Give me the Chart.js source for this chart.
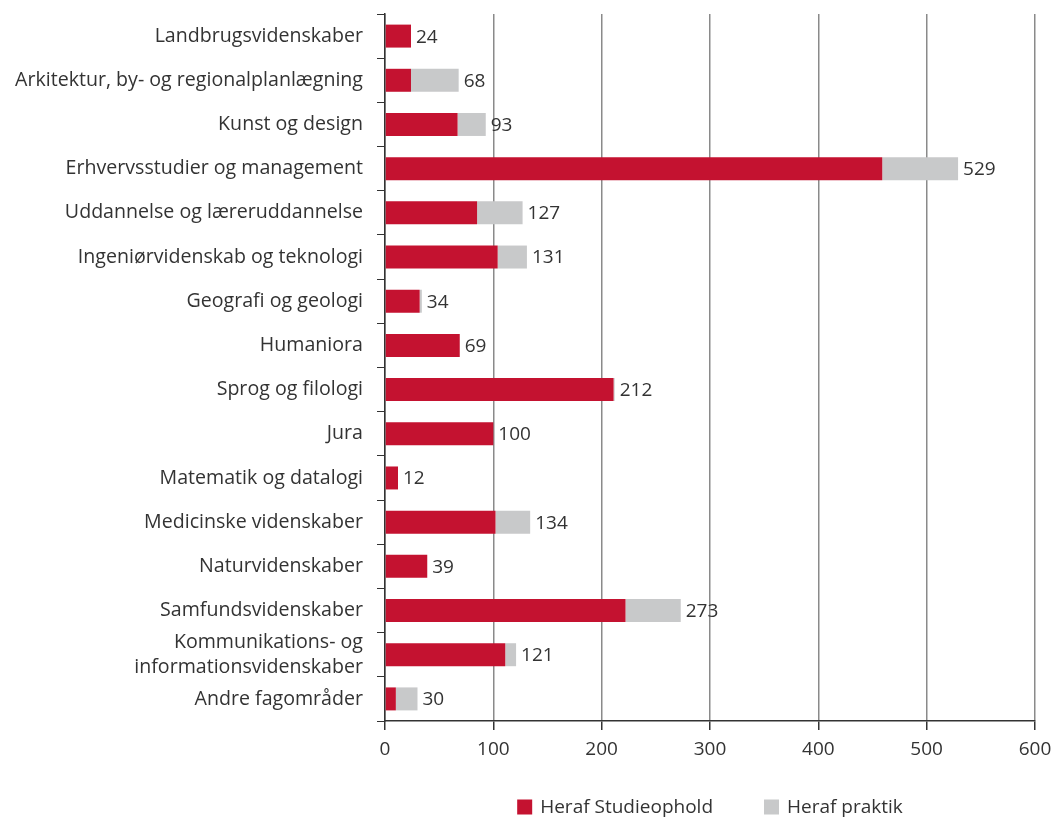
<!DOCTYPE html>
<html>
<head>
<meta charset="utf-8">
<script src="https://cdn.jsdelivr.net/npm/chart.js@4.4.1/dist/chart.umd.min.js"></script>
<style>
  html, body { margin: 0; padding: 0; background: #fff; }
  #wrap { width: 1056px; height: 819px; }
</style>
</head>
<body>
<div id="wrap"><canvas id="chart"></canvas></div>
<script>
// Fagområder
const categories = [
    'Landbrugsvidenskaber',
    'Arkitektur, by- og regionalplanlægning',
    'Kunst og design',
    'Erhvervsstudier og management',
    'Uddannelse og læreruddannelse',
    'Ingeniørvidenskab og teknologi',
    'Geografi og geologi',
    'Humaniora',
    'Sprog og filologi',
    'Jura',
    'Matematik og datalogi',
    'Medicinske videnskaber',
    'Naturvidenskaber',
    'Samfundsvidenskaber',
    ['Kommunikations- og', 'informationsvidenskaber'],
    'Andre fagområder'
];

// Serier
const studieophold = [24, 24, 67, 459, 85, 104, 32, 69, 211, 100, 12, 102, 39, 222, 111, 10];
const praktik      = [0, 44, 26, 70, 42, 27, 2, 0, 1, 0, 0, 32, 0, 51, 10, 20];

// Akse
const xTicks = [0, 100, 200, 300, 400, 500, 600];

const FONT = "'Open Sans', 'Noto Sans', sans-serif";
const TEXT = '#333333';

// Totaler efter hver bjælke
const totalLabels = {
    id: 'totalLabels',
    afterDatasetsDraw(chart) {
        const ctx = chart.ctx;
        const xScale = chart.scales.x;
        const yScale = chart.scales.y;
        ctx.save();
        ctx.font = `19px ${FONT}`;
        ctx.fillStyle = TEXT;
        ctx.textAlign = 'left';
        ctx.textBaseline = 'middle';
        categories.forEach((c, i) => {
            const total = studieophold[i] + praktik[i];
            const x = xScale.getPixelForValue(total) + 5;
            const y = yScale.getPixelForValue(i);
            ctx.fillText(String(total), x, y + 1);
        });
        ctx.restore();
    }
};

// Forklaring under grafen
const bottomLegend = {
    id: 'bottomLegend',
    afterDraw(chart) {
        const ctx = chart.ctx;
        const area = chart.chartArea;
        const box = 15, gapText = 8, gapItem = 51;
        ctx.save();
        ctx.font = `19px ${FONT}`;
        const items = chart.data.datasets.map(ds => ({
            text: ds.label,
            color: ds.backgroundColor,
            w: ctx.measureText(ds.label).width
        }));
        let total = 0;
        items.forEach((it, i) => {
            total += box + gapText + it.w + (i > 0 ? gapItem : 0);
        });
        let x = (area.left + area.right) / 2 - total / 2;
        const yMid = 807;
        ctx.textBaseline = 'middle';
        ctx.textAlign = 'left';
        items.forEach(it => {
            ctx.fillStyle = it.color;
            ctx.fillRect(x, yMid - box / 2, box, box);
            ctx.fillStyle = TEXT;
            ctx.fillText(it.text, x + box + gapText, yMid + 1);
            x += box + gapText + it.w + gapItem;
        });
        ctx.restore();
    }
};

new Chart(document.getElementById('chart'), {
    type: 'bar',
    data: {
        labels: categories,
        datasets: [
            {
                label: 'Heraf Studieophold',
                data: studieophold,
                backgroundColor: '#c41230',
                barPercentage: 0.52,
                categoryPercentage: 1
            },
            {
                label: 'Heraf praktik',
                data: praktik,
                backgroundColor: '#c8c9ca',
                barPercentage: 0.52,
                categoryPercentage: 1
            }
        ]
    },
    options: {
        indexAxis: 'y',
        responsive: true,
        maintainAspectRatio: false,
        animation: false,
        layout: { padding: { top: 14, right: 21, left: 0, bottom: 53 } },
        plugins: {
            legend: { display: false },
            tooltip: { enabled: false }
        },
        scales: {
            x: {
                stacked: true,
                min: 0,
                max: 600,
                afterBuildTicks(scale) {
                    scale.ticks = xTicks.map(v => ({ value: v }));
                },
                afterFit(scale) {
                    scale.height = 45;
                    scale.paddingLeft = 0;
                    scale.paddingRight = 0;
                },
                grid: {
                    color: '#8a8a8a',
                    lineWidth: 1.5,
                    tickColor: '#333',
                    tickLength: 9
                },
                border: { color: '#333', width: 1.5 },
                ticks: {
                    color: TEXT,
                    padding: 8,
                    font: { family: FONT, size: 19 }
                }
            },
            y: {
                stacked: true,
                afterFit(scale) {
                    scale.width = 385;
                    scale.paddingTop = 0;
                    scale.paddingBottom = 0;
                },
                grid: {
                    offset: true,
                    drawOnChartArea: false,
                    tickColor: '#333',
                    tickLength: 8
                },
                border: { color: '#333', width: 1.5 },
                ticks: {
                    autoSkip: false,
                    color: TEXT,
                    padding: 14,
                    font: { family: FONT, size: 19.6, lineHeight: 1.25 }
                }
            }
        }
    },
    plugins: [totalLabels, bottomLegend]
});
</script>
</body>
</html>
